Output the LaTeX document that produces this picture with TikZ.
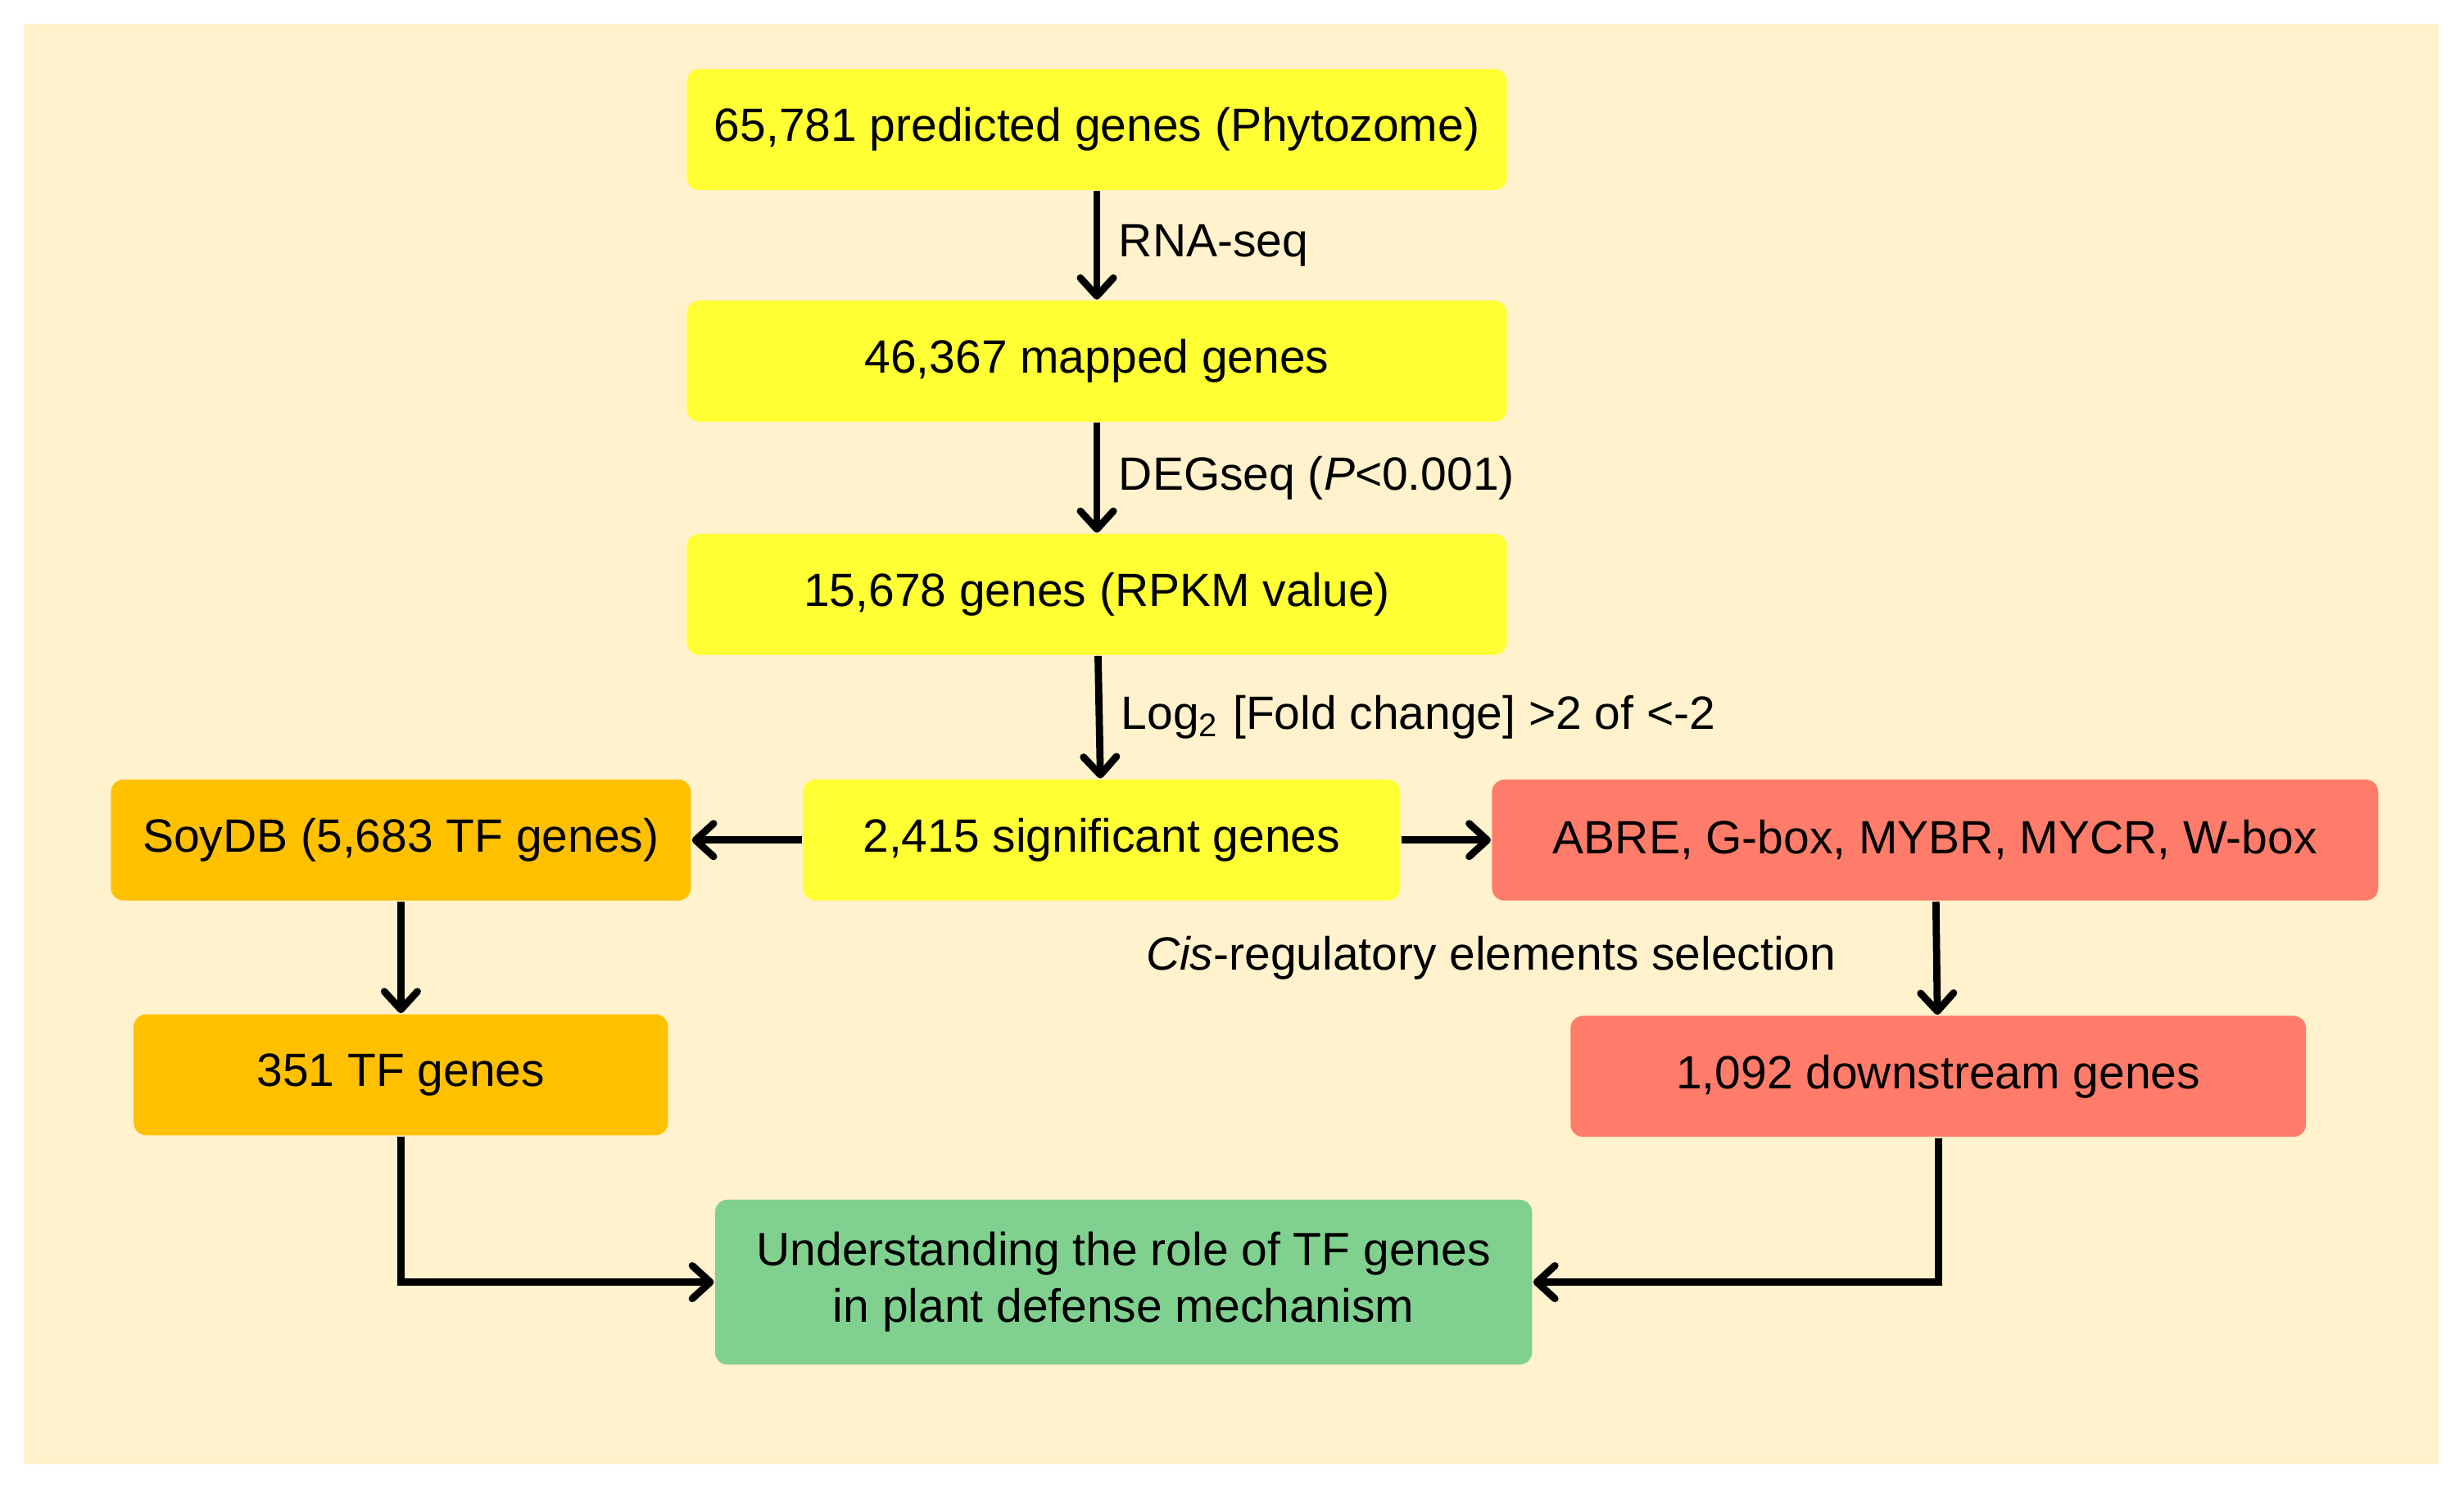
\documentclass[tikz,border=0pt]{standalone}
\usepackage{fontspec}
\setmainfont{Liberation Sans}
\usepackage{xcolor}
\usepackage{tikz}
\usetikzlibrary{arrows.meta,positioning}

\definecolor{bgcream}{HTML}{FFF2CC}
\definecolor{boxyellow}{HTML}{FFFF33}
\definecolor{boxorange}{HTML}{FFC000}
\definecolor{boxsalmon}{HTML}{FF7C6A}
\definecolor{boxgreen}{HTML}{80D18F}

\begin{document}
\begin{tikzpicture}[
    font=\fontsize{8.45}{10.2}\selectfont,
    node distance=0.69cm and 0.7cm,
    box/.style={rounded corners=0.8mm, fill=boxyellow, minimum width=5.22cm, minimum height=0.77cm,
                inner sep=0pt, align=center},
    tfbox/.style={box, fill=boxorange},
    crebox/.style={box, fill=boxsalmon},
    goalbox/.style={box, fill=boxgreen, minimum width=5.2cm, minimum height=1.05cm},
    arr/.style={-{Straight Barb[round,length=1.15mm,width=2.1mm]}, line width=1.3pt}
  ]
    \fill[bgcream] (0.15,-0.15) rectangle (15.52,-9.32);
    \useasboundingbox (0,0) rectangle (15.68,-9.47);

    \node[box] (pred) at (6.98,-0.825) {65,781 predicted genes (Phytozome)};
    \node[box, below=of pred]   (mapped) {46,367 mapped genes};
    \node[box, below=0.7cm of mapped] (rpkm) {15,678 genes (RPKM value)};
    \node[box, below=0.78cm of rpkm, minimum width=3.8cm, xshift=0.3mm] (sig) {2,415 significant genes};
    \node[tfbox, left=of sig, minimum width=3.69cm]        (soydb) {SoyDB (5,683 TF genes)};
    \node[crebox, right=0.57cm of sig, minimum width=5.64cm] (cre) {ABRE, G-box, MYBR, MYCR, W-box};
    \node[tfbox, below=0.71cm of soydb, minimum width=3.4cm] (tf)  {351 TF genes};
    \node[crebox, below=0.72cm of cre, minimum width=4.68cm, xshift=0.2mm] (down) {1,092 downstream genes};
    \node[goalbox, below=1.89cm of sig, xshift=1.4mm] (goal) {Understanding the role of TF genes \\ in plant defense mechanism};

    \draw[arr] (pred)   -- node[midway,right]{RNA-seq} (mapped);
    \draw[arr] (mapped) -- node[midway,right]{DEGseq (\textit{P}<0.001)} (rpkm);
    \draw[arr] (rpkm)   -- node[midway,right]{Log\textsubscript{2} [Fold change] >2 of <-2} (sig);
    \draw[arr] (sig)    -- (soydb);
    \draw[arr] (sig)    -- (cre);
    \draw[arr] (soydb)  -- (tf);
    \draw[arr] (cre)    -- node[midway,left=5mm]{\textit{Cis}-regulatory elements selection} (down);
    \draw[arr] (tf)     |- (goal);
    \draw[arr] (down)   |- (goal);
  \end{tikzpicture}
\end{document}
